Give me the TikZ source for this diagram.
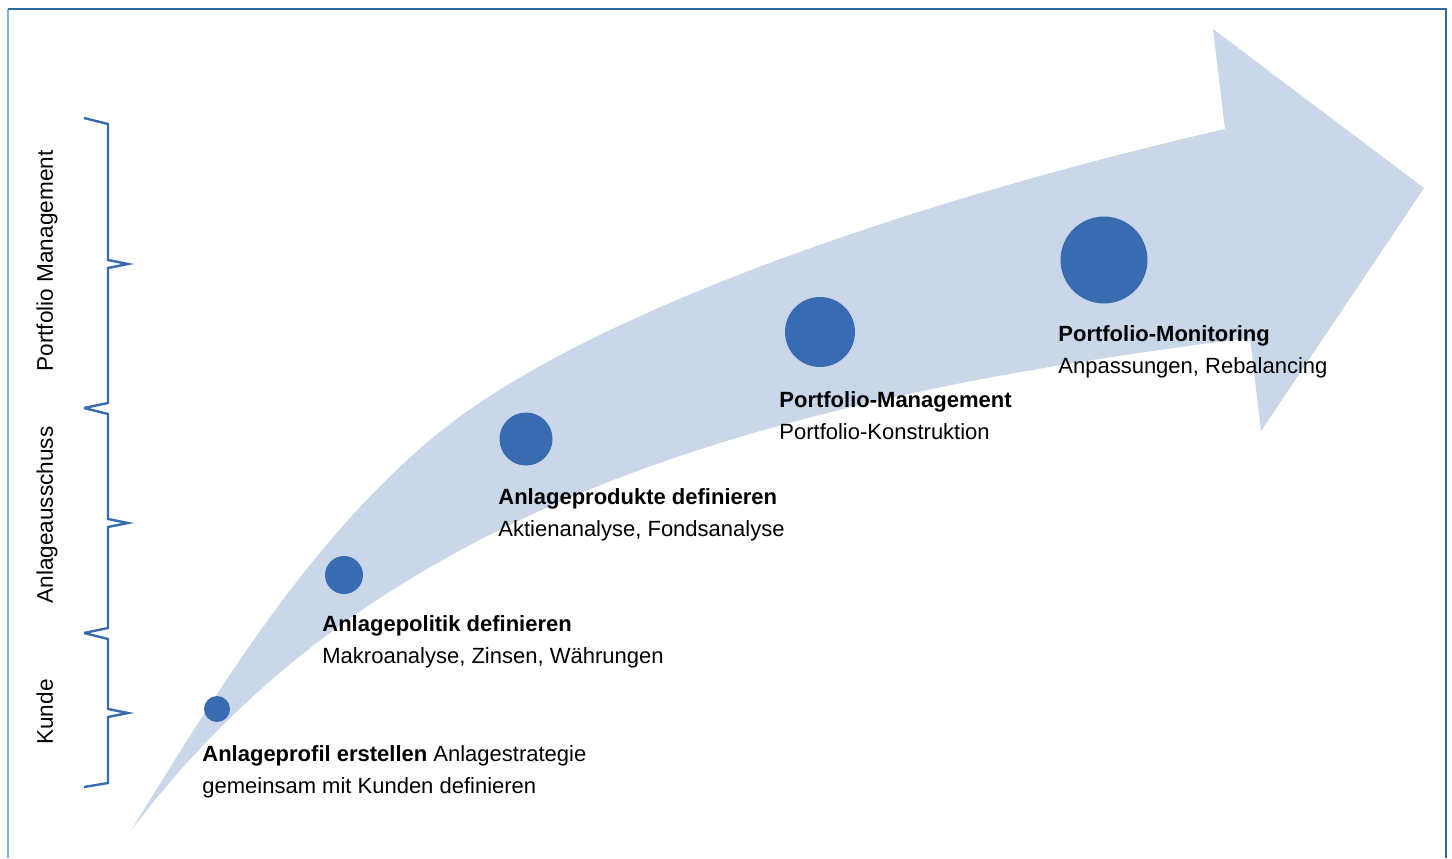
\documentclass[tikz,border=0pt]{standalone}
\usepackage{fontspec}
\setmainfont{Liberation Sans}
\definecolor{bandblue}{HTML}{C9D7E9}
\definecolor{dotblue}{HTML}{386BAF}
\definecolor{frameblue}{HTML}{2F6AA6}
\definecolor{framelight}{HTML}{7DB0DE}
\begin{document}
\begin{tikzpicture}[x=0.5pt,y=-0.5pt,
  stepdot/.style={circle,fill=dotblue,inner sep=0pt,minimum size=#1},
  steptext/.style={anchor=north west,align=left,inner sep=0pt,font=\fontsize{11}{16}\selectfont},
  side/.style={rotate=90,anchor=base,inner sep=0pt,font=\fontsize{11.3}{16}\selectfont},
  brace/.style={draw=dotblue,line width=1.2pt,line join=miter}]
\useasboundingbox (0,0) rectangle (1452,858);
\fill[bandblue] (130,832) .. controls (217,692) and (304,547) .. (430,440)
  .. controls (583,310) and (933,196) .. (1225,129) -- (1213,29) -- (1424,188) -- (1261,431) -- (1250,338)
  .. controls (750,400) and (370,512) .. (130,832) -- cycle;
\draw[framelight,line width=1pt] (8,858) -- (8,9);
\draw[frameblue,line width=1pt] (8,9) -- (1446,9) -- (1446,858);
\node[stepdot=13pt] (d1) at (217,709) {};
\node[stepdot=19pt] (d2) at (344,575) {};
\node[stepdot=26.5pt] (d3) at (526,439) {};
\node[stepdot=35pt] (d4) at (820,332) {};
\node[stepdot=43.5pt] (d5) at (1104,260) {};
\node[steptext] (t1) at (202,745) {\textbf{Anlageprofil erstellen} Anlagestrategie\\gemeinsam mit Kunden definieren};
\node[steptext] (t2) at (322,615) {\textbf{Anlagepolitik definieren}\\Makroanalyse, Zinsen, Währungen};
\node[steptext] (t3) at (498,488) {\textbf{Anlageprodukte definieren}\\Aktienanalyse, Fondsanalyse};
\node[steptext] (t4) at (779,391) {\textbf{Portfolio-Management}\\Portfolio-Konstruktion};
\node[steptext] (t5) at (1058,325) {\textbf{Portfolio-Monitoring}\\Anpassungen, Rebalancing};
\draw[brace] (84,118) -- (108,124) -- (108,260) -- (128,264) -- (108,268) -- (108,403) -- (84,408);
\draw[brace] (84,408) -- (108,414) -- (108,519) -- (128,523) -- (108,527) -- (108,628) -- (84,633);
\draw[brace] (84,633) -- (108,639) -- (108,709) -- (128,713) -- (108,717) -- (108,783) -- (84,787);
\node[side] (g1) at (53,261) {Portfolio Management};
\node[side] (g2) at (53,515) {Anlageausschuss};
\node[side] (g3) at (53,712) {Kunde};
\end{tikzpicture}
\end{document}
